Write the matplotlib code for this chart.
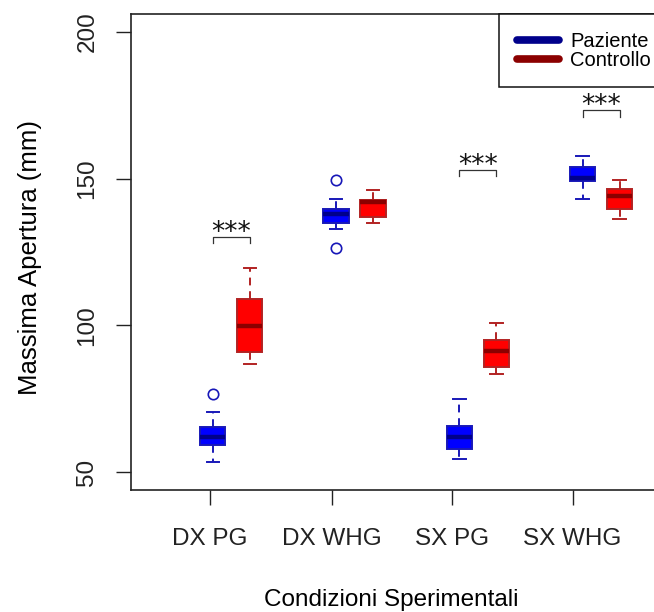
import matplotlib
matplotlib.use("Agg")
import matplotlib.pyplot as plt
from matplotlib.lines import Line2D

plt.rcParams['font.family'] = ['Liberation Sans', 'DejaVu Sans']

# condizioni sperimentali
conditions = ["DX PG", "DX WHG", "SX PG", "SX WHG"]
tick_pos = [0.977, 1.965, 2.94, 3.918]
paz_pos = [1, 2, 3, 4]
ctrl_pos = [1.3, 2.3, 3.3, 4.3]

# five-number summaries: low whisker, q1, median, q3, high whisker
paz_low = [53.5, 132.8, 54.4, 143.2]
paz_q1 = [59.2, 134.9, 58.0, 149.2]
paz_med = [62.0, 137.9, 62.1, 150.3]
paz_q3 = [65.4, 139.5, 65.7, 153.9]
paz_high = [70.5, 143.0, 75.1, 157.7]
paz_out = [[76.7], [149.4, 126.2], [], []]

ctrl_low = [86.9, 134.9, 83.6, 136.1]
ctrl_q1 = [91.0, 137.0, 85.9, 139.8]
ctrl_med = [99.9, 141.9, 91.2, 144.1]
ctrl_q3 = [109.0, 142.6, 95.1, 146.4]
ctrl_high = [119.7, 146.2, 100.8, 149.6]
ctrl_out = [[], [], [], []]

# significance brackets (group index, height)
sig_groups = [0, 2, 3]
sig_height = [130.2, 152.8, 173.2]
sig_label = ["***", "***", "***"]


def make_stats(low, q1, med, q3, high, out):
    stats = []
    for i in range(len(low)):
        stats.append(dict(whislo=low[i], q1=q1[i], med=med[i], q3=q3[i],
                          whishi=high[i], fliers=out[i]))
    return stats


def draw_group(ax, stats, pos, fill, edge, median):
    ax.bxp(stats, positions=pos, widths=0.205, patch_artist=True,
           manage_ticks=False,
           boxprops=dict(facecolor=fill, edgecolor=edge, linewidth=1.4),
           medianprops=dict(color=median, linewidth=3.2, solid_capstyle='butt'),
           whiskerprops=dict(color=edge, linewidth=1.4, linestyle=(0, (4, 3))),
           capprops=dict(color=edge, linewidth=1.4),
           capwidths=0.1,
           flierprops=dict(marker='o', markerfacecolor='none', markeredgecolor=edge,
                           markersize=7.5, markeredgewidth=1.2))


fig = plt.figure(figsize=(6.54, 6.12), dpi=100)
ax = fig.add_axes([131 / 654, 122 / 612, 549 / 654, 476 / 612])

draw_group(ax, make_stats(paz_low, paz_q1, paz_med, paz_q3, paz_high, paz_out),
           paz_pos, "#0000FF", "#1818B8", "#00008B")
draw_group(ax, make_stats(ctrl_low, ctrl_q1, ctrl_med, ctrl_q3, ctrl_high, ctrl_out),
           ctrl_pos, "#FF0000", "#B22222", "#8B0000")

# significance brackets
for g, h, lab in zip(sig_groups, sig_height, sig_label):
    x0, x1 = paz_pos[g], ctrl_pos[g]
    ax.plot([x0, x0, x1, x1], [h - 2.1, h, h, h - 2.1], color="#333333", lw=0.9)
    ax.text((x0 + x1) / 2, h - 1.0, lab, ha='center', va='baseline',
            fontsize=19, color="#111111", family='DejaVu Sans')

ax.set_xlim(0.336, 4.79)
ax.set_ylim(44, 206)
ax.set_yticks([50, 100, 150, 200])
ax.set_xticks(tick_pos)
ax.set_xticklabels(conditions)
ax.tick_params(axis='both', length=10.5, width=1.0, labelsize=17.5, colors="#222222")
ax.tick_params(axis='x', pad=17)
ax.tick_params(axis='y', pad=13)
for lbl in ax.get_yticklabels():
    lbl.set_rotation(90)
    lbl.set_va('center')
for sp in ax.spines.values():
    sp.set_linewidth(1.2)
    sp.set_color("#222222")

ax.set_ylabel("Massima Apertura (mm)", fontsize=18.5)
ax.yaxis.set_label_coords((42 - 131) / 549, (612 - 257.5 - 122) / 476)
fig.text(391 / 654, (612 - 606) / 612, "Condizioni Sperimentali", ha='center',
         va='baseline', fontsize=17.5)

handles = [Line2D([], [], color="#00008B", lw=5.5, solid_capstyle='round'),
           Line2D([], [], color="#8B0000", lw=5.5, solid_capstyle='round')]
leg = ax.legend(handles, ["Paziente", "Controllo"], loc='upper left',
                bbox_to_anchor=(368 / 549, 1.0), borderaxespad=0, fontsize=14.5,
                frameon=True, fancybox=False, edgecolor="#111111", framealpha=1,
                handlelength=2.1, handletextpad=0.55, borderpad=0.88,
                labelspacing=0)
leg.get_frame().set_linewidth(1.1)

fig.savefig("out.png", dpi=100)
